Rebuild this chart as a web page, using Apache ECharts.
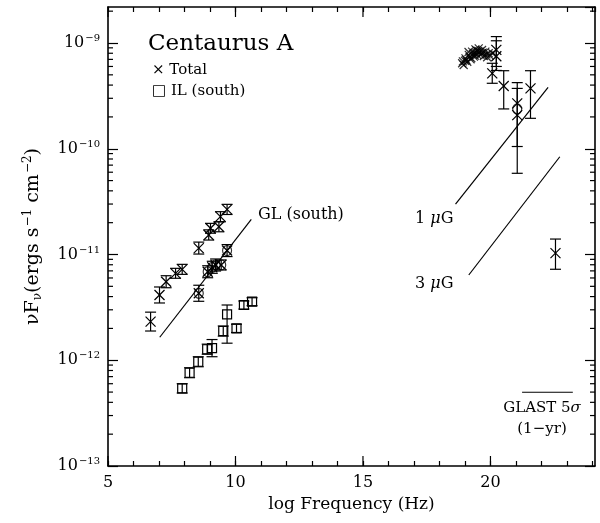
<!DOCTYPE html>
<html><head><meta charset="utf-8">
<script src="https://cdn.jsdelivr.net/npm/echarts@6/dist/echarts.min.js"></script>
<style>html,body{margin:0;padding:0;background:#fff}#c{width:600px;height:523px}</style>
</head><body><div id="c"></div>
<script>
// ---- axis settings ----
const xMin = 5, xMax = 24.1;
const yMin = 1e-13, yMax = 2.19e-9;
const xMajorTicks = [5, 10, 15, 20];

// ---- "Total" points (x marks) with error bars ----
const totalX  = [6.67, 7.02, 7.28, 7.65, 7.91, 8.56, 8.95, 9.02, 9.35, 9.41, 9.67,
                 8.56, 8.91, 9.09, 9.22, 9.44, 9.67,
                 20.23, 20.23, 20.07, 20.52, 21.05, 21.05, 21.57, 22.55];
const totalY  = [2.32e-12, 4.14e-12, 5.53e-12, 6.64e-12, 7.24e-12, 1.15e-11, 1.53e-11, 1.77e-11, 1.83e-11, 2.28e-11, 2.67e-11,
                 4.3e-12, 6.87e-12, 7.57e-12, 7.96e-12, 7.96e-12, 1.09e-11,
                 8.6e-10, 7.5e-10, 5.16e-10, 3.92e-10, 2.69e-10, 2.08e-10, 3.72e-10, 1.03e-11];
const totalLo = [1.89e-12, 3.48e-12, 4.85e-12, 5.96e-12, 6.49e-12, 1.01e-11, 1.37e-11, 1.59e-11, 1.64e-11, 2.04e-11, 2.39e-11,
                 3.61e-12, 6.03e-12, 6.64e-12, 6.98e-12, 7.14e-12, 9.56e-12,
                 6.0e-10, 5.5e-10, 4.16e-10, 2.38e-10, 1.05e-10, 5.86e-11, 1.94e-10, 7.25e-12];
const totalHi = [2.85e-12, 4.93e-12, 6.30e-12, 7.40e-12, 8.07e-12, 1.31e-11, 1.71e-11, 1.97e-11, 2.04e-11, 2.54e-11, 2.98e-11,
                 5.12e-12, 7.83e-12, 8.63e-12, 9.07e-12, 8.88e-12, 1.24e-11,
                 1.15e-9, 1.05e-9, 6.43e-10, 5.47e-10, 3.72e-10, 4.22e-10, 5.47e-10, 1.40e-11];

// ---- dense x-ray cloud (Total, no error bars) ----
const cloudX = [18.89, 19.02, 19.15, 19.28, 19.41, 19.54, 19.67, 19.80, 19.93, 20.07,
                18.95, 19.09, 19.22, 19.35, 19.48, 19.61, 19.74, 19.87, 19.14, 19.37, 19.58, 19.00, 19.45,
                18.92, 19.05, 19.18, 19.31, 19.44, 19.52, 19.70, 19.84, 19.97, 19.25, 19.39, 19.65];
const cloudY = [6.43e-10, 7.16e-10, 7.71e-10, 8.28e-10, 8.71e-10, 8.91e-10, 8.59e-10, 8.28e-10, 8.0e-10, 8.0e-10,
                6.19e-10, 6.65e-10, 7.02e-10, 7.43e-10, 7.71e-10, 7.71e-10, 7.53e-10, 7.33e-10, 8.22e-10, 8.04e-10, 8.3e-10, 6.8e-10, 8.5e-10,
                6.7e-10, 6.9e-10, 7.4e-10, 7.8e-10, 8.1e-10, 8.4e-10, 8.1e-10, 7.8e-10, 7.6e-10, 7.2e-10, 7.6e-10, 8.0e-10];

// ---- circled points ----
const circX = [8.56, 8.91, 9.09, 9.22, 9.44, 9.67, 21.05];
const circY = [4.3e-12, 6.87e-12, 7.57e-12, 7.96e-12, 7.96e-12, 1.09e-11, 2.38e-10];

// ---- IL (south) squares with error bars ----
const ilX  = [7.91, 8.20, 8.54, 8.89, 9.08, 9.52, 9.67, 10.04, 10.33, 10.65];
const ilY  = [5.43e-13, 7.62e-13, 9.68e-13, 1.27e-12, 1.30e-12, 1.89e-12, 2.72e-12, 2.0e-12, 3.33e-12, 3.58e-12];
const ilLo = [4.9e-13, 6.84e-13, 8.68e-13, 1.14e-12, 1.08e-12, 1.69e-12, 1.45e-12, 1.83e-12, 3.05e-12, 3.28e-12];
const ilHi = [6.0e-13, 8.5e-13, 1.08e-12, 1.42e-12, 1.57e-12, 2.11e-12, 3.33e-12, 2.19e-12, 3.63e-12, 3.90e-12];

// ---- model lines ----
const glLineX = [7.03, 10.62],   glLineY = [1.65e-12, 2.15e-11];
const b1LineX = [18.63, 22.26],  b1LineY = [3.0e-11, 3.81e-10];
const b3LineX = [19.15, 22.72],  b3LineY = [6.4e-12, 8.4e-11];
const glastX  = [21.24, 23.23],  glastY  = [4.98e-13, 4.98e-13];

// ---- build ----
const FONT = 'DejaVu Serif';
const zip = (a, b) => a.map((v, i) => [v, b[i]]);
const totalData = totalX.map((x, i) => [x, totalY[i], totalLo[i], totalHi[i]]);
const ilData = ilX.map((x, i) => [x, ilY[i], ilLo[i], ilHi[i]]);

const yMinor = [];
for (let e = -13; e <= -9; e++) for (let k = 2; k <= 9; k++) {
  const v = k * Math.pow(10, e);
  if (v < yMax) yMinor.push([xMin, v]);
}
const xMajorData = xMajorTicks.map(x => [x, yMin]);

const black = '#000';
function ln(x1, y1, x2, y2, w) {
  return {type: 'line', shape: {x1, y1, x2, y2}, style: {stroke: black, lineWidth: w || 1.2}};
}
function errRender(marker) {
  return function (params, api) {
    const x = api.value(0);
    const p = api.coord([x, api.value(1)]);
    const lo = api.coord([x, api.value(2)]);
    const hi = api.coord([x, api.value(3)]);
    const c = 5.5, s = 5;
    const ch = [ln(p[0], lo[1], p[0], hi[1]), ln(p[0] - c, lo[1], p[0] + c, lo[1]), ln(p[0] - c, hi[1], p[0] + c, hi[1])];
    if (marker === 'x') {
      ch.push(ln(p[0] - s, p[1] - s, p[0] + s, p[1] + s), ln(p[0] - s, p[1] + s, p[0] + s, p[1] - s));
    } else {
      ch.push({type: 'rect', shape: {x: p[0] - 4.5, y: p[1] - 4.5, width: 9, height: 9}, style: {stroke: black, fill: 'none', lineWidth: 1.2}});
    }
    return {type: 'group', children: ch};
  };
}
function lineSeries(xs, ys) {
  return {type: 'line', data: zip(xs, ys), symbol: 'none', silent: true,
          lineStyle: {color: black, width: 1.2}, z: 3};
}
const supLabel = {
  m: {fontSize: 16, fontFamily: FONT, color: black},
  s: {fontSize: 10, fontFamily: FONT, color: black, padding: [0, 0, 9, 1]}
};
const axisLineStyle = {show: true, lineStyle: {color: black, width: 1.6}};

const chart = echarts.init(document.getElementById('c'), null, {renderer: 'canvas'});
chart.setOption({
  animation: false,
  backgroundColor: '#fff',
  grid: {left: 108, right: 5, top: 7, bottom: 57, containLabel: false},
  xAxis: [{
    type: 'value', min: xMin, max: xMax, interval: 1, position: 'bottom',
    axisLine: axisLineStyle,
    axisTick: {show: true, inside: true, length: 5, lineStyle: {color: black, width: 1.2}},
    axisLabel: {
      show: true, margin: 9, fontSize: 16, fontFamily: FONT, color: black, showMaxLabel: false,
      formatter: v => (xMajorTicks.indexOf(v) >= 0 ? String(v) : '')
    },
    splitLine: {show: false},
    name: 'log Frequency (Hz)', nameLocation: 'middle', nameGap: 28,
    nameTextStyle: {fontSize: 17, fontFamily: FONT, color: black}
  }, {
    type: 'value', min: xMin, max: xMax, interval: 1, position: 'top',
    axisLine: axisLineStyle,
    axisTick: {show: true, inside: true, length: 5, lineStyle: {color: black, width: 1.2}},
    axisLabel: {show: false}, splitLine: {show: false}
  }],
  yAxis: [{
    type: 'log', logBase: 10, min: yMin, max: yMax, position: 'left',
    axisLine: axisLineStyle,
    axisTick: {show: true, inside: true, length: 10, lineStyle: {color: black, width: 1.2}},
    axisLabel: {
      show: true, margin: 8, showMaxLabel: false,
      formatter: v => '{m|10}{s|\u2212' + Math.abs(Math.round(Math.log10(v))) + '}',
      rich: supLabel
    },
    splitLine: {show: false}, minorTick: {show: false},
    name: '{a|\u03bdF}{b|\u03bd}{a|(ergs s}{c|\u22121}{a| cm}{c|\u22122}{a|)}',
    nameLocation: 'middle', nameGap: 64, nameRotate: 90,
    nameTextStyle: {
      rich: {
        a: {fontSize: 19, fontFamily: FONT, color: black},
        b: {fontSize: 12, fontFamily: FONT, color: black, padding: [10, 0, 0, 0]},
        c: {fontSize: 12, fontFamily: FONT, color: black, padding: [0, 0, 10, 1]}
      }
    }
  }, {
    type: 'log', logBase: 10, min: yMin, max: yMax, position: 'right',
    axisLine: axisLineStyle,
    axisTick: {show: true, inside: true, length: 10, lineStyle: {color: black, width: 1.2}},
    axisLabel: {show: false}, splitLine: {show: false}
  }],
  series: [
    lineSeries(glLineX, glLineY),
    lineSeries(b1LineX, b1LineY),
    lineSeries(b3LineX, b3LineY),
    lineSeries(glastX, glastY),
    {type: 'custom', name: 'Total', data: totalData, encode: {x: 0, y: 1}, renderItem: errRender('x'), z: 4},
    {type: 'custom', name: 'IL (south)', data: ilData, encode: {x: 0, y: 1}, renderItem: errRender('s'), z: 4},
    {type: 'scatter', data: zip(cloudX, cloudY), symbol: 'path://M0 0L10 10M10 0L0 10', symbolSize: 8,
     itemStyle: {color: 'rgba(0,0,0,0)', borderColor: black, borderWidth: 1.2}, z: 4},
    {type: 'scatter', data: zip(circX, circY), symbol: 'circle', symbolSize: [9, 10],
     itemStyle: {color: 'rgba(0,0,0,0)', borderColor: black, borderWidth: 1.2}, z: 4},
    {type: 'custom', data: yMinor, encode: {x: 0, y: 1}, silent: true, clip: false,
     renderItem: (params, api) => {
       const v = api.value(1);
       const l = api.coord([xMin, v]), r = api.coord([xMax, v]);
       return {type: 'group', children: [ln(l[0], l[1], l[0] + 5, l[1]), ln(r[0], r[1], r[0] - 5, r[1])]};
     }},
    {type: 'custom', data: xMajorData, encode: {x: 0, y: 1}, silent: true, clip: false,
     renderItem: (params, api) => {
       const x = api.value(0);
       const b = api.coord([x, yMin]), t = api.coord([x, yMax]);
       return {type: 'group', children: [ln(b[0], b[1], b[0], b[1] - 10), ln(t[0], t[1], t[0], t[1] + 10)]};
     }}
  ],
  graphic: [
    {type: 'text', x: 148, y: 44, style: {text: 'Centaurus A', font: '23px "DejaVu Serif"', fill: black, verticalAlign: 'middle'}},
    {type: 'text', x: 152, y: 70, style: {text: '\u00d7 Total', font: '15px "DejaVu Serif"', fill: black, verticalAlign: 'middle'}},
    {type: 'text', x: 152, y: 91, style: {text: '\u25a1 IL (south)', font: '15px "DejaVu Serif"', fill: black, verticalAlign: 'middle'}},
    {type: 'text', x: 258, y: 215, style: {text: 'GL (south)', font: '16px "DejaVu Serif"', fill: black, verticalAlign: 'middle'}},
    {type: 'text', x: 415, y: 219, style: {text: '1 {i|\u03bc}G', font: '16px "DejaVu Serif"', fill: black, verticalAlign: 'middle',
      rich: {i: {fontStyle: 'italic', fontSize: 16, fontFamily: FONT}}}},
    {type: 'text', x: 415, y: 284, style: {text: '3 {i|\u03bc}G', font: '16px "DejaVu Serif"', fill: black, verticalAlign: 'middle',
      rich: {i: {fontStyle: 'italic', fontSize: 16, fontFamily: FONT}}}},
    {type: 'text', x: 542, y: 408, style: {text: 'GLAST 5{i|\u03c3}', font: '15px "DejaVu Serif"', fill: black, align: 'center', verticalAlign: 'middle',
      rich: {i: {fontStyle: 'italic', fontSize: 15, fontFamily: FONT}}}},
    {type: 'text', x: 542, y: 429, style: {text: '(1\u2212yr)', font: '15px "DejaVu Serif"', fill: black, align: 'center', verticalAlign: 'middle'}}
  ]
});
</script>
</body></html>
